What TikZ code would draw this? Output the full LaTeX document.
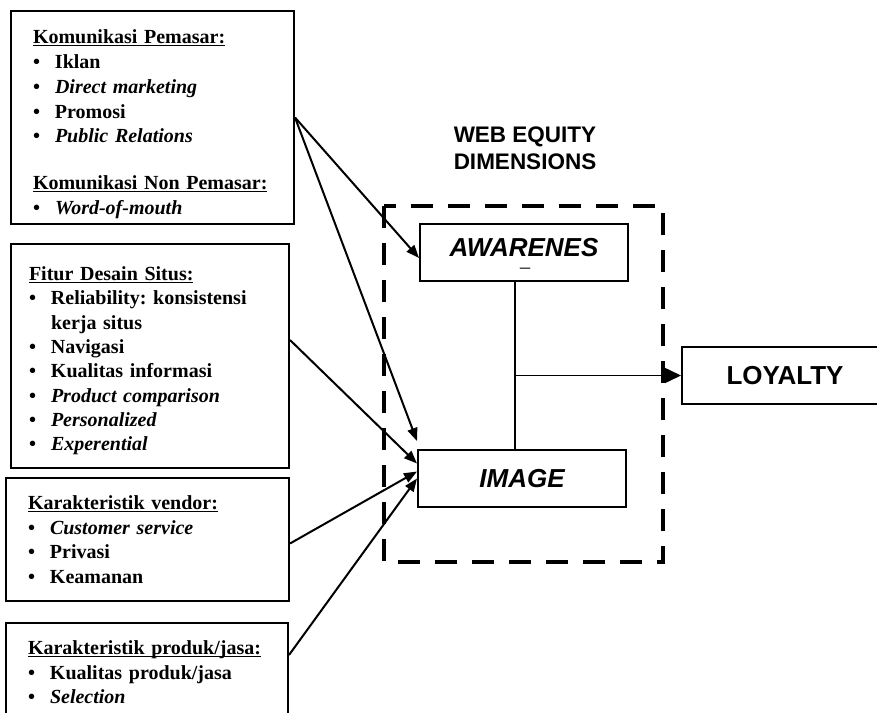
\documentclass[tikz,border=0pt]{standalone}
\usepackage{fontspec}
\setmainfont{Liberation Serif}
\newfontfamily\headfont{Liberation Sans}
\usetikzlibrary{arrows.meta}

\newcommand{\itm}{\makebox[22pt][l]{\textbullet}}
\newcommand{\ttl}[1]{\underline{\smash{#1}}}

\begin{document}
\frenchspacing
\begin{tikzpicture}[x=1pt,y=-1pt,
    srcbox/.style={draw,line width=2pt,anchor=north west,align=left,inner ysep=0pt,
        font=\bfseries\fontsize{20}{24.5}\selectfont},
    dimbox/.style={draw,line width=2pt,minimum height=57pt,
        font=\headfont\bfseries\fontsize{26}{28}\selectfont},
    conn/.style={->,line width=2pt},
    >={Triangle[length=13pt,width=10pt]}]
                \clip (0,0) rectangle (877,712);
                %sources
                \node[srcbox,inner xsep=22pt,text width=239pt,text height=32.6pt,text depth=180.4pt,
                    font=\bfseries\fontsize{20}{24.8}\selectfont] (kom) at (10,10)
                    {\ttl{Komunikasi Pemasar:}\\
                     \itm Iklan\\
                     \itm\textit{Direct marketing}\\
                     \itm Promosi\\
                     \itm\textit{Public Relations}\\[22pt]
                     \ttl{Komunikasi Non Pemasar:}\\
                     \itm\textit{Word-of-mouth}};
                \node[srcbox,inner xsep=18pt,text width=242pt,text height=36.6pt,text depth=187.4pt,
                    font=\bfseries\fontsize{20}{24.3}\selectfont] (fit) at (10,243)
                    {\ttl{Fitur Desain Situs:}\\
                     \itm Reliability: konsistensi\\
                     \hspace*{22pt}kerja situs\\
                     \itm Navigasi\\
                     \itm Kualitas informasi\\
                     \itm\textit{Product comparison}\\
                     \itm\textit{Personalized}\\
                     \itm\textit{Experential}};
                \node[srcbox,inner xsep=22pt,text width=239pt,text height=31.6pt,text depth=91.4pt] (ven) at (5,477)
                    {\ttl{Karakteristik vendor:}\\
                     \itm\textit{Customer service}\\
                     \itm Privasi\\
                     \itm Keamanan};
                \node[srcbox,inner xsep=22pt,text width=238pt,text height=31.6pt,text depth=68.4pt] (pro) at (5,622)
                    {\ttl{Karakteristik produk/jasa:}\\
                     \itm Kualitas produk/jasa\\
                     \itm\textit{Selection}};
                %dimensions
                \node[font=\headfont\bfseries\fontsize{22.5}{27}\selectfont,align=left,inner sep=0pt]
                    (wed) at (525,148) {WEB EQUITY\\DIMENSIONS};
                \draw[line width=4.5pt,dash pattern=on 22pt off 15pt] (384,206) rectangle (663,562);
                \node[dimbox,minimum width=208pt,text depth=10pt] (aw) at (524,252) {\itshape AWARENES};
                \node[font=\headfont\bfseries\fontsize{10.5}{11}\selectfont,inner sep=0pt] (awd) at (525,270) {—};
                \node[dimbox,minimum width=208pt] (img) at (522,478.5) {\itshape IMAGE};
                \node[dimbox,minimum width=206pt] (loy) at (785,375.5) {LOYALTY};
                %arrows
                \draw[conn] (kom.east) -- ([yshift=-6pt]aw.west);
                \draw[conn] (kom.east) -- ([yshift=8pt]img.north west);
                \draw[conn] ([yshift=16pt]fit.east) -- ([yshift=15pt]img.west);
                \draw[conn] ([yshift=-4pt]ven.east) -- ([yshift=7pt]img.west);
                \draw[conn] ([yshift=18pt]pro.east) -- (img.west);
                \coordinate (jn) at (515,375.5);
                \draw[line width=1.3pt] ([xshift=-9pt]aw.south) -- ([xshift=-7pt]img.north);
                \draw[->,line width=1.5pt,>={Triangle[length=16pt,width=15pt]}] (jn) -- (loy.west);
\end{tikzpicture}
\end{document}
